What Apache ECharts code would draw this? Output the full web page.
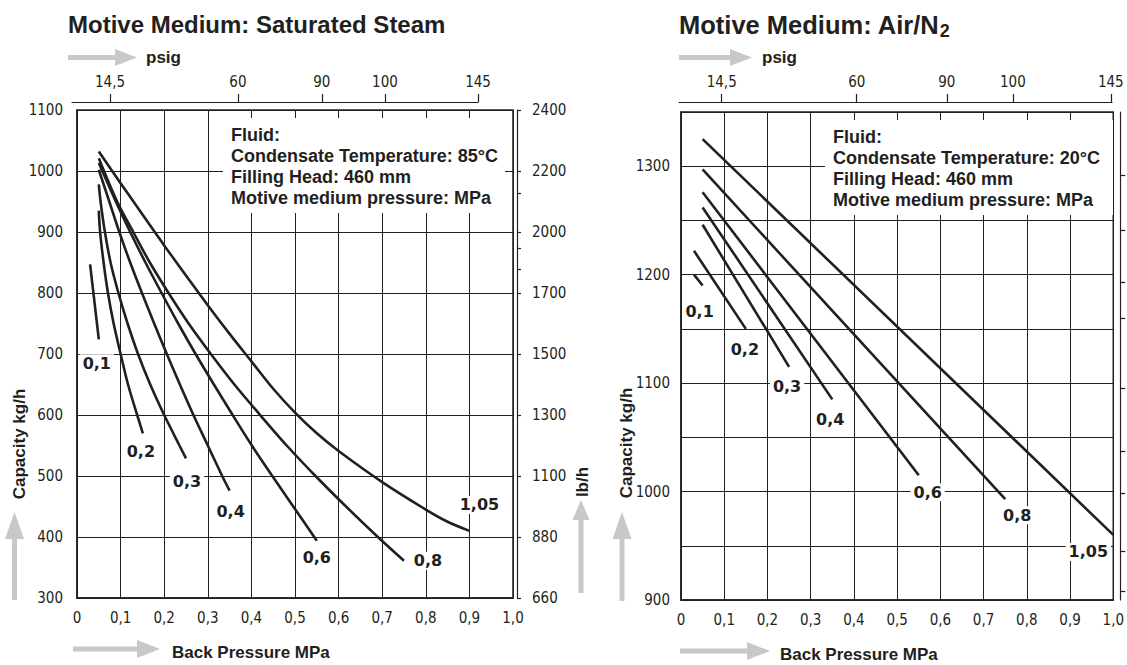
<!DOCTYPE html>
<html><head><meta charset="utf-8">
<script src="https://cdn.jsdelivr.net/npm/echarts@6/dist/echarts.min.js"></script>
<style>html,body{margin:0;padding:0;background:#fff}#c{width:1127px;height:665px}</style>
</head><body><div id="c"></div>
<script>
// ---------- data ----------
const pressureLabels = ['0,1','0,2','0,3','0,4','0,6','0,8','1,05'];
// Saturated steam: [back pressure MPa, capacity kg/h]
const steam01 = [[0.03,847],[0.05,724]];
const steam02 = [[0.05,935],[0.053,900],[0.061,850],[0.071,800],[0.084,750],[0.1,700],[0.117,650],[0.138,600],[0.151,570]];
const steam03 = [[0.05,978],[0.054,950],[0.064,900],[0.077,850],[0.095,800],[0.116,750],[0.14,700],[0.168,650],[0.2,600],[0.235,550],[0.25,529]];
const steam04 = [[0.05,1002],[0.074,950],[0.097,900],[0.122,850],[0.149,800],[0.177,750],[0.206,700],[0.236,650],[0.267,600],[0.3,550],[0.333,500],[0.35,476]];
const steam06 = [[0.05,1013],[0.089,950],[0.122,900],[0.157,850],[0.194,800],[0.232,750],[0.272,700],[0.314,650],[0.357,600],[0.401,550],[0.448,500],[0.496,450],[0.55,394]];
const steam08 = [[0.05,1021],[0.092,950],[0.129,900],[0.167,850],[0.21,800],[0.256,750],[0.307,700],[0.361,650],[0.42,600],[0.481,550],[0.547,500],[0.617,450],[0.69,400],[0.75,361]];
const steam105 = [[0.05,1032],[0.1,980],[0.2,878],[0.3,780],[0.35,733],[0.4,688],[0.45,643],[0.5,604],[0.55,570],[0.6,541],[0.7,490],[0.8,445],[0.85,425],[0.9,410]];
// Air / N2
const air01 = [[0.03,1200],[0.05,1190]];
const air02 = [[0.03,1222],[0.15,1150]];
const air03 = [[0.05,1246],[0.25,1115]];
const air04 = [[0.05,1262],[0.35,1085]];
const air06 = [[0.05,1276],[0.55,1015]];
const air08 = [[0.05,1297],[0.75,993]];
const air105 = [[0.05,1325],[1.0,960]];
// secondary axes
const psigTickLabels = ['14,5','60','90','100','145'];
const steamPsigAtMPa = [0.076,0.37,0.563,0.708,0.922];
const airPsigAtMPa = [0.0936,0.404,0.611,0.763,0.988];
const lbTickKg = [300,400,500,600,700,800,900,1000,1100];
const lbTickLabels = ['660','880','1100','1300','1500','1700','2000','2200','2400'];
const lbMinorKg = [963.5,873,839];
const airLbTickKg = [1292,1241,1193,1160,1095,1037,998,945,908];
const steamInfo = ['Fluid:','Condensate Temperature: 85°C','Filling Head: 460 mm','Motive medium pressure: MPa'];
const airInfo = ['Fluid:','Condensate Temperature: 20°C','Filling Head: 460 mm','Motive medium pressure: MPa'];

// ---------- styles ----------
const INK = '#231f20';
const GREY = '#c8c8c8';
const NARROW = '"Liberation Sans Narrow","Arial Narrow","DejaVu Sans Condensed",sans-serif';
const BOLD = '"Liberation Sans",Arial,sans-serif';

const chart = echarts.init(document.getElementById('c'), null, {renderer:'svg'});

function mpaFmt(v){ return v === 0 ? '0' : v.toFixed(1).replace('.', ','); }
function lookup(vals, labels){ return v => { for (let i=0;i<vals.length;i++) if (Math.abs(vals[i]-v)<1e-6) return labels[i]; return ''; }; }

const tickLabel = {fontFamily: NARROW, fontSize: 15, color: INK};

function mainX(grid){
  return {gridIndex:grid, type:'value', min:0, max:1, interval:0.1, position:'bottom',
    axisLine:{show:true, lineStyle:{color:INK, width:1.5}}, axisTick:{show:false},
    axisLabel:Object.assign({margin:12, formatter:mpaFmt}, tickLabel),
    splitLine:{show:true, lineStyle:{color:INK, width:1}}};
}
function psigX(grid, at, min, max){
  return {gridIndex:grid, type:'value', min:min, max:max, position:'top',
    axisLine:{show:true, lineStyle:{color:INK, width:1.2}},
    axisTick:{show:true, customValues:at, length:8, lineStyle:{color:INK, width:1.2}},
    axisLabel:Object.assign({margin:12, customValues:at, formatter:lookup(at, psigTickLabels)}, tickLabel),
    splitLine:{show:false}};
}

function curve(data, name, grid, off, smooth){
  const last = data[data.length-1];
  return {type:'line', name:name, xAxisIndex:grid, yAxisIndex:grid, data:data,
    showSymbol:false, symbol:'none', smooth:smooth, silent:true,
    lineStyle:{color:INK, width:2.6}, z:5,
    markPoint:{symbol:'circle', symbolSize:1, silent:true, itemStyle:{color:'rgba(0,0,0,0)'},
      label:{show:true, position:'inside', formatter:name, offset:off, color:INK,
        fontFamily:'"DejaVu Sans",Verdana,sans-serif', fontWeight:'bold', fontSize:16,
        backgroundColor:'#fff', padding:[1,3]},
      data:[{coord:last}]}};
}

function hArrow(x0, tip, yc, headLen, headH){
  return [
    {type:'rect', z:50, shape:{x:x0, y:yc-2.5, width:tip-headLen-x0+1, height:5}, style:{fill:GREY}},
    {type:'polygon', z:50, shape:{points:[[tip-headLen,yc-headH/2],[tip,yc],[tip-headLen,yc+headH/2]]}, style:{fill:GREY}}];
}
function vArrow(xc, bottom, tip, headLen, headW){
  return [
    {type:'rect', z:50, shape:{x:xc-2.5, y:tip+headLen-1, width:5, height:bottom-tip-headLen+1}, style:{fill:GREY}},
    {type:'polygon', z:50, shape:{points:[[xc-headW/2,tip+headLen],[xc,tip],[xc+headW/2,tip+headLen]]}, style:{fill:GREY}}];
}
function txt(x, y, text, size, rot){
  return {type:'text', z:60, x:x, y:y, rotation:rot||0,
    style:{text:text, fill:INK, font:'bold '+size+'px '+BOLD, textAlign:rot?'center':'left', textVerticalAlign:'middle'}};
}
function infoBox(x, y, w, h, lines){
  return [
    {type:'rect', z:100, shape:{x:x, y:y, width:w, height:h}, style:{fill:'#ffffff'}},
    {type:'text', z:101, x:x+8, y:y+6.5, style:{text:lines.join('\n'), fill:INK, font:'bold 18px '+BOLD, lineHeight:21, textVerticalAlign:'top'}}];
}

const option = {
  animation:false,
  backgroundColor:'#fff',
  grid:[
    {left:77, top:110, width:436, height:488, show:true, borderColor:INK, borderWidth:1.5, backgroundColor:'transparent'},
    {left:72, top:101, width:406, height:1},
    {left:681, top:112, width:435, height:488, show:true, borderColor:INK, borderWidth:1.5, backgroundColor:'transparent'},
    {left:679, top:101, width:433, height:1}
  ],
  xAxis:[
    mainX(0),
    psigX(1, steamPsigAtMPa, -0.0115, 0.922),
    mainX(2),
    psigX(3, airPsigAtMPa, -0.0046, 0.9908)
  ],
  yAxis:[
    {gridIndex:0, type:'value', min:300, max:1100, interval:100,
      axisLine:{show:true, lineStyle:{color:INK, width:1.5}}, axisTick:{show:false},
      axisLabel:Object.assign({margin:14, formatter:v => String(v)}, tickLabel),
      splitLine:{show:true, lineStyle:{color:INK, width:1}}},
    {gridIndex:1, show:false, min:0, max:1},
    {gridIndex:2, type:'value', min:900, max:1350, interval:50,
      axisLine:{show:true, lineStyle:{color:INK, width:1.5}}, axisTick:{show:false},
      axisLabel:Object.assign({margin:11, formatter:v => (v % 100 === 0 && v < 1350) ? String(v) : ''}, tickLabel),
      splitLine:{show:true, lineStyle:{color:INK, width:1}}},
    {gridIndex:3, show:false, min:0, max:1},
    {gridIndex:0, type:'value', position:'right', offset:4, min:300, max:1100, interval:100,
      axisLine:{show:true, lineStyle:{color:INK, width:1.2}},
      axisTick:{show:true, length:4, customValues:lbTickKg.concat(lbMinorKg), lineStyle:{color:INK, width:1.2}},
      axisLabel:Object.assign({margin:15, customValues:lbTickKg, formatter:lookup(lbTickKg, lbTickLabels)}, tickLabel),
      splitLine:{show:false}},
    {gridIndex:2, type:'value', position:'right', offset:7, min:900, max:1350, interval:50,
      axisLine:{show:true, lineStyle:{color:INK, width:1.2}},
      axisTick:{show:true, length:5, customValues:airLbTickKg, lineStyle:{color:INK, width:1.2}},
      axisLabel:{show:false}, splitLine:{show:false}}
  ],
  series:[
    curve(steam01, pressureLabels[0], 0, [-2,24], false),
    curve(steam02, pressureLabels[1], 0, [-2,18], 0.3),
    curve(steam03, pressureLabels[2], 0, [1,23], 0.3),
    curve(steam04, pressureLabels[3], 0, [1,21], 0.3),
    curve(steam06, pressureLabels[4], 0, [0,17], 0.3),
    curve(steam08, pressureLabels[5], 0, [24,0], 0.3),
    curve(steam105, pressureLabels[6], 0, [10,-26], 0.3),
    curve(air01, pressureLabels[0], 2, [-3,26], false),
    curve(air02, pressureLabels[1], 2, [-1,21], false),
    curve(air03, pressureLabels[2], 2, [-2,20], false),
    curve(air04, pressureLabels[3], 2, [-2,20], false),
    curve(air06, pressureLabels[4], 2, [9,17], false),
    curve(air08, pressureLabels[5], 2, [12,16], false),
    curve(air105, pressureLabels[6], 2, [-25,17], false)
  ],
  graphic:{elements:[].concat(
    [txt(68, 24, 'Motive Medium: Saturated Steam', 24),
     {type:'text', z:60, x:679, y:10, style:{text:'{t|Motive Medium: Air/N}{s|2}', fill:INK,
       rich:{t:{font:'bold 25.5px '+BOLD, lineHeight:30, fill:INK}, s:{font:'bold 18px '+BOLD, lineHeight:22, verticalAlign:'bottom', fill:INK}}}},
     txt(146, 57.5, 'psig', 17), txt(762, 57.5, 'psig', 17),
     txt(172, 652, 'Back Pressure MPa', 17), txt(780, 654, 'Back Pressure MPa', 17),
     txt(19, 444, 'Capacity kg/h', 17, Math.PI/2),
     txt(626, 443, 'Capacity kg/h', 17, Math.PI/2),
     txt(582, 482, 'lb/h', 17, Math.PI/2)],
    infoBox(223, 118, 282, 95, steamInfo),
    infoBox(825, 120, 288, 95, airInfo),
    hArrow(68, 137, 57.5, 22, 17), hArrow(679, 752, 57.5, 22, 17),
    hArrow(73, 160, 649, 23, 18), hArrow(680, 770, 651, 23, 18),
    vArrow(14.5, 600, 512, 27, 19), vArrow(622, 601, 512, 27, 19), vArrow(581, 593, 500, 20, 17)
  )}
};
chart.setOption(option);
</script></body></html>
